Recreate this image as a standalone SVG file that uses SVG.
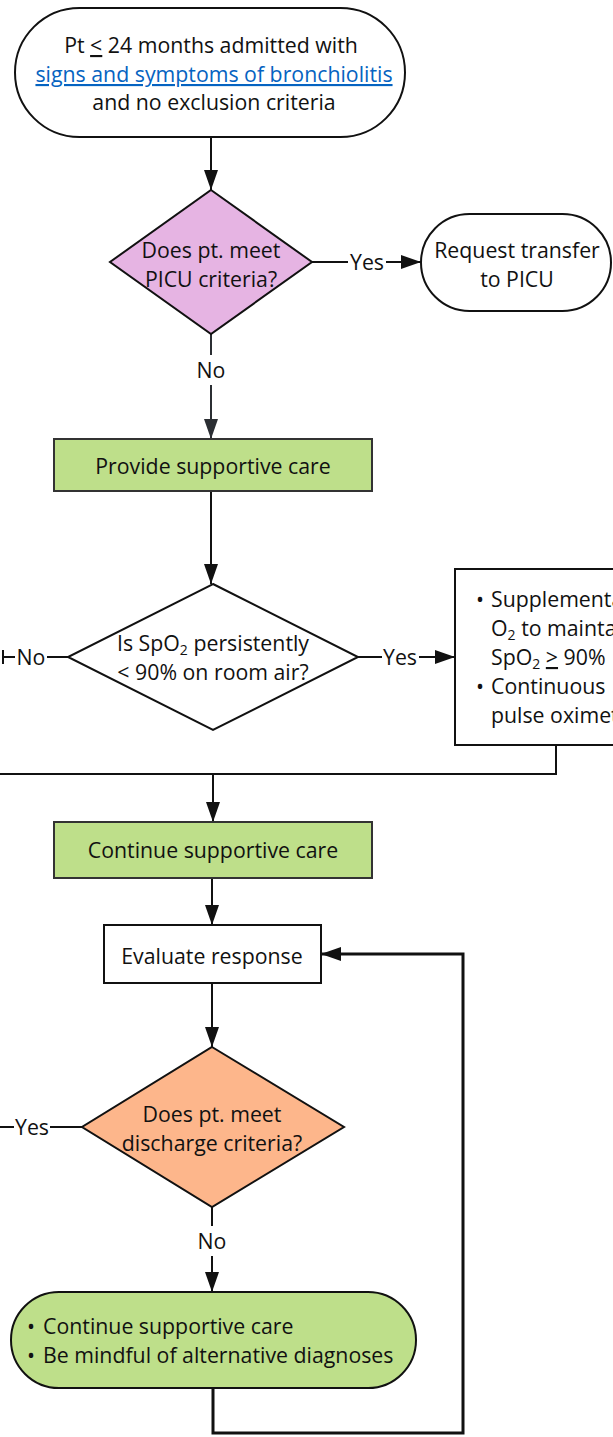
<svg xmlns="http://www.w3.org/2000/svg" width="613" height="1437" viewBox="0 0 613 1437">
<style>
text{font-family:"Open Sans","Noto Sans","Liberation Sans",sans-serif;font-size:21.3px;fill:#111}
.c{text-anchor:middle}
.node{stroke:#111;stroke-width:2}
.green{fill:#BEDF8A;stroke:#333}
.edge{fill:none;stroke:#111;stroke-width:2}
.thick{stroke-width:3}
.lbl{text-anchor:middle}
.link{fill:#0563C1;text-decoration:underline}
.sub{font-size:14px}
</style>
<defs>
<marker id="ah" markerUnits="userSpaceOnUse" markerWidth="20" markerHeight="20" viewBox="0 0 20 20" refX="20" refY="10" orient="auto">
<path d="M0,3 L20,10 L0,17 Z" fill="#111"/>
</marker>
<marker id="ahg" markerUnits="userSpaceOnUse" markerWidth="20" markerHeight="20" viewBox="0 0 20 20" refX="20" refY="10" orient="auto">
<path d="M0,3 L20,10 L0,17 Z" fill="#2b2e33"/>
</marker>
</defs>

<g id="connectors">
<line class="edge" x1="211" y1="137" x2="211" y2="190" marker-end="url(#ah)"/>
<line class="edge" x1="312" y1="262" x2="348" y2="262"/>
<line class="edge" x1="386" y1="262" x2="421" y2="262" marker-end="url(#ah)"/>
<text class="lbl" x="367" y="270">Yes</text>
<line x1="211" y1="334" x2="211" y2="355" stroke="#2b2e33" stroke-width="2"/>
<line x1="211" y1="385" x2="211" y2="439" stroke="#2b2e33" stroke-width="2" marker-end="url(#ahg)"/>
<text class="lbl" x="211" y="378">No</text>
<line class="edge" x1="211" y1="491" x2="211" y2="584" marker-end="url(#ah)"/>
<line class="edge" x1="68" y1="657" x2="47" y2="657"/>
<line class="edge" x1="15" y1="657" x2="2" y2="657"/>
<line class="edge" x1="3" y1="650" x2="3" y2="664"/>
<text class="lbl" x="31" y="665">No</text>
<line class="edge" x1="358" y1="657" x2="382" y2="657"/>
<line class="edge" x1="419" y1="657" x2="455" y2="657" marker-end="url(#ah)"/>
<text class="lbl" x="400" y="665">Yes</text>
<polyline class="edge" points="556,745 556,774 0,774"/>
<line class="edge" x1="213" y1="774" x2="213" y2="822" marker-end="url(#ah)"/>
<line class="edge" x1="212" y1="878" x2="212" y2="925" marker-end="url(#ah)"/>
<line class="edge" x1="212" y1="983" x2="212" y2="1047" marker-end="url(#ah)"/>
<line class="edge" x1="82" y1="1127" x2="50" y2="1127"/>
<line class="edge" x1="14" y1="1127" x2="0" y2="1127"/>
<text class="lbl" x="32" y="1135">Yes</text>
<line class="edge" x1="212" y1="1207" x2="212" y2="1226"/>
<line class="edge" x1="212" y1="1256" x2="212" y2="1292" marker-end="url(#ah)"/>
<text class="lbl" x="212" y="1249">No</text>
<polyline class="edge thick" points="213,1388 213,1433 463,1433 463,954 321,954" marker-end="url(#ah)"/>
</g>

<g id="start">
<rect class="node" x="15" y="8" width="390" height="129" rx="64.5" fill="#fff"/>
<text class="c" x="211" y="53">Pt <tspan text-decoration="underline">&lt;</tspan> 24 months admitted with</text>
<text class="c link" x="214" y="82">signs and symptoms of bronchiolitis</text>
<text class="c" x="214" y="110">and no exclusion criteria</text>
</g>

<g id="picu-decision">
<polygon class="node" points="211,190 312,262 211,334 110,262" fill="#E6B4E3"/>
<text class="c" x="211" y="258">Does pt. meet</text>
<text class="c" x="211" y="287">PICU criteria?</text>
</g>

<g id="transfer">
<rect class="node" x="421" y="214" width="190" height="97" rx="48.5" fill="#fff"/>
<text class="c" x="517" y="258">Request transfer</text>
<text class="c" x="517" y="287">to PICU</text>
</g>

<g id="provide-care">
<rect class="node green" x="54" y="439" width="318" height="52"/>
<text class="c" x="213" y="474">Provide supportive care</text>
</g>

<g id="spo2-decision">
<polygon class="node" points="213,584 358,657 213,730 68,657" fill="#fff"/>
<text class="c" x="213" y="651">Is SpO<tspan class="sub" dy="4">2</tspan><tspan dy="-4"> persistently</tspan></text>
<text class="c" x="213" y="680">&lt; 90% on room air?</text>
</g>

<g id="supplemental">
<rect class="node" x="455" y="569" width="170" height="176" fill="#fff"/>
<text x="476" y="607">•</text>
<text x="491" y="607">Supplemental</text>
<text x="491" y="636">O<tspan class="sub" dy="4">2</tspan><tspan dy="-4"> to maintain</tspan></text>
<text x="491" y="665">SpO<tspan class="sub" dy="4">2</tspan><tspan dy="-4"> </tspan><tspan text-decoration="underline">&gt;</tspan> 90%</text>
<text x="476" y="694">•</text>
<text x="491" y="694">Continuous</text>
<text x="491" y="723">pulse oximetry</text>
</g>

<g id="continue-care">
<rect class="node green" x="54" y="822" width="318" height="56"/>
<text class="c" x="213" y="858">Continue supportive care</text>
</g>

<g id="evaluate">
<rect class="node" x="104" y="925" width="217" height="58" fill="#fff"/>
<text class="c" x="212" y="964">Evaluate response</text>
</g>

<g id="discharge-decision">
<polygon class="node" points="212,1047 344,1127 212,1207 82,1127" fill="#FDB68B"/>
<text class="c" x="212" y="1122">Does pt. meet</text>
<text class="c" x="212" y="1151">discharge criteria?</text>
</g>

<g id="continue-mindful">
<rect class="node" x="11" y="1292" width="405" height="96" rx="48" fill="#BEDF8A"/>
<text x="27" y="1334">•</text>
<text x="43" y="1334">Continue supportive care</text>
<text x="27" y="1363">•</text>
<text x="43" y="1363">Be mindful of alternative diagnoses</text>
</g>
</svg>
